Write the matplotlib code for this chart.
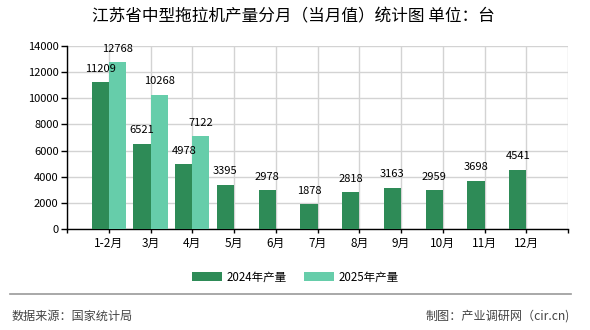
import numpy as np
import matplotlib.pyplot as plt

plt.rcParams['font.family'] = ['Noto Sans CJK SC', 'DejaVu Sans']

# monthly production (units), Jiangsu medium tractors
months = ["1-2月", "3月", "4月", "5月", "6月", "7月", "8月", "9月", "10月", "11月", "12月"]
prod_2024 = [11209, 6521, 4978, 3395, 2978, 1878, 2818, 3163, 2959, 3698, 4541]
prod_2025 = [12768, 10268, 7122]

c2024 = "#2e8b57"
c2025 = "#66cdaa"

fig = plt.figure(figsize=(5.9, 3.3), dpi=100)
ax = fig.add_axes([67 / 590, 1 - 229 / 330, 501 / 590, 183 / 330])

x = np.arange(len(months))
w = 0.41
b1 = ax.bar(x - w / 2, prod_2024, width=w, color=c2024, label="2024年产量", zorder=3)
b2 = ax.bar(x[:len(prod_2025)] + w / 2, prod_2025, width=w, color=c2025, label="2025年产量", zorder=3)

# value labels above bars
for bars, vals in [(b1, prod_2024), (b2, prod_2025)]:
    for r, v in zip(bars, vals):
        ax.annotate(str(v), (r.get_x() + r.get_width() / 2, v), xytext=(0, 6),
                    textcoords="offset points", ha="center", va="bottom", fontsize=8)

ax.set_xlim(-1, 11)
ax.set_ylim(0, 14000)
ax.set_xticks(range(-1, 12))
ax.set_xticklabels([""] + months + [""], fontsize=8.5)
ax.set_yticks(range(0, 14001, 2000))
ax.set_yticklabels([str(v) for v in range(0, 14001, 2000)], fontsize=8)
ax.tick_params(axis="x", length=3, width=1, pad=3)
ax.tick_params(axis="y", length=4, width=1, pad=2)

ax.grid(True, color="#d3d3d3", linewidth=1, zorder=0)
for s in ["top", "right"]:
    ax.spines[s].set_visible(False)
for s in ["left", "bottom"]:
    ax.spines[s].set_color("black")
    ax.spines[s].set_linewidth(1)

fig.text(0.497, 1 - 17 / 330, "江苏省中型拖拉机产量分月（当月值）统计图 单位：台",
         ha="center", va="center", fontsize=12)

fig.legend(handles=[b1, b2], loc="center", bbox_to_anchor=(0.5, 1 - 277 / 330), ncol=2,
           frameon=False, fontsize=8.3, handlelength=2.6, handleheight=0.9, columnspacing=1.5,
           handletextpad=0.4)

fig.add_artist(plt.Line2D([10 / 590, 571 / 590], [1 - 294 / 330] * 2, color="#999999", linewidth=1.2))
fig.text(12 / 590, 1 - 316 / 330, "数据来源：国家统计局", ha="left", va="center", fontsize=8.7, color="#444444")
fig.text(570 / 590, 1 - 316 / 330, "制图：产业调研网（cir.cn)", ha="right", va="center", fontsize=8.7, color="#444444")

fig.savefig("out.png", dpi=100)
